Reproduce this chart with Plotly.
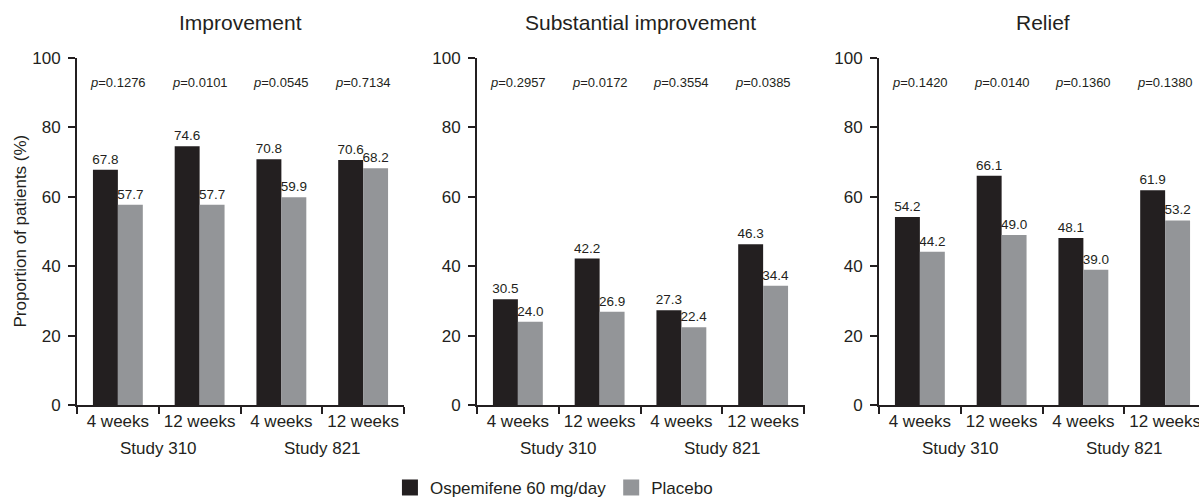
import plotly.graph_objects as go

# ---- data ----
panel_titles = ["Improvement", "Substantial improvement", "Relief"]
week_labels = ["4 weeks", "12 weeks", "4 weeks", "12 weeks"]
study_labels = ["Study 310", "Study 821"]
series_names = ["Ospemifene 60 mg/day", "Placebo"]
y_title = "Proportion of patients (%)"

ospemifene_improvement = [67.8, 74.6, 70.8, 70.6]
placebo_improvement = [57.7, 57.7, 59.9, 68.2]
ospemifene_substantial = [30.5, 42.2, 27.3, 46.3]
placebo_substantial = [24.0, 26.9, 22.4, 34.4]
ospemifene_relief = [54.2, 66.1, 48.1, 61.9]
placebo_relief = [44.2, 49.0, 39.0, 53.2]

p_improvement = ["0.1276", "0.0101", "0.0545", "0.7134"]
p_substantial = ["0.2957", "0.0172", "0.3554", "0.0385"]
p_relief = ["0.1420", "0.0140", "0.1360", "0.1380"]

y_ticks = [0, 20, 40, 60, 80, 100]

# ---- style ----
INK = "#231f20"
BLACK = "#231f20"
GRAY = "#939598"
FONT = "Liberation Sans, Arial, sans-serif"
W, H = 1199, 502

ospe = [ospemifene_improvement, ospemifene_substantial, ospemifene_relief]
plac = [placebo_improvement, placebo_substantial, placebo_relief]
pvals = [p_improvement, p_substantial, p_relief]

x_pos = list(range(len(week_labels)))

# pixel layout of the plotting areas
px_domains = [(77, 404), (477, 805), (879, 1199)]
cat_px = 81.75

fig = go.Figure()
annotations = []
for i in range(3):
    ax = "" if i == 0 else str(i + 1)
    fig.add_trace(go.Bar(
        x=x_pos, y=ospe[i], name=series_names[0], marker_color=BLACK,
        marker_line_width=0, xaxis="x" + ax, yaxis="y" + ax, showlegend=False,
        texttemplate="%{y:.1f}", textposition="outside", constraintext="none",
        cliponaxis=False, textfont=dict(size=13.5, color=INK, family=FONT),
        offsetgroup="o",
    ))
    fig.add_trace(go.Bar(
        x=x_pos, y=plac[i], name=series_names[1], marker_color=GRAY,
        marker_line_width=0, xaxis="x" + ax, yaxis="y" + ax, showlegend=False,
        texttemplate="%{y:.1f}", textposition="outside", constraintext="none",
        cliponaxis=False, textfont=dict(size=13.5, color=INK, family=FONT),
        offsetgroup="p",
    ))
    d0, d1 = px_domains[i]
    n_cats = (d1 - d0) / cat_px
    xa = dict(
        domain=[d0 / W, d1 / W], range=[-0.5, -0.5 + n_cats],
        tickvals=x_pos, ticktext=week_labels, ticks="", showgrid=False,
        zeroline=False, showline=True, linecolor=INK, linewidth=2,
        tickfont=dict(size=17, color=INK, family=FONT), anchor="y" + ax,
        ticklabeloverflow="allow", automargin=False,
        minor=dict(tickvals=[-0.5, 0.5, 1.5, 2.5, 3.5], ticks="outside",
                   ticklen=7, tickwidth=2, tickcolor=INK, showgrid=False),
        fixedrange=True,
    )
    ya = dict(
        domain=[0, 1], range=[0, 100], tickvals=y_ticks, ticks="outside",
        ticklen=7, tickwidth=2, tickcolor=INK, showline=True, linecolor=INK,
        linewidth=2, showgrid=False, zeroline=False, anchor="x" + ax,
        tickfont=dict(size=17, color=INK, family=FONT), ticklabelstandoff=4,
        automargin=False, fixedrange=True,
    )
    fig.update_layout(**{"xaxis" + ax: xa, "yaxis" + ax: ya})

    # panel title
    annotations.append(dict(
        text=panel_titles[i], xref="x" + ax, yref="paper", x=1.5, y=1.101,
        xanchor="center", yanchor="middle", showarrow=False,
        font=dict(size=21, color=INK, family=FONT)))
    # p-values
    for j, p in enumerate(pvals[i]):
        annotations.append(dict(
            text="<i>p</i>=" + p, xref="x" + ax, yref="y" + ax, x=x_pos[j], y=93,
            xanchor="center", yanchor="middle", showarrow=False,
            font=dict(size=13, color=INK, family=FONT)))
    # study group labels
    for k, s in enumerate(study_labels):
        annotations.append(dict(
            text=s, xref="x" + ax, yref="paper", x=2 * k + 0.5, y=-0.124,
            xanchor="center", yanchor="middle", showarrow=False,
            font=dict(size=17, color=INK, family=FONT)))

# y-axis title (shared, left panel)
annotations.append(dict(
    text=y_title, xref="paper", yref="paper", x=20 / W, y=0.5, textangle=-90,
    xanchor="center", yanchor="middle", showarrow=False,
    font=dict(size=17, color=INK, family=FONT)))

# legend entries
for name, col in zip(series_names, [BLACK, GRAY]):
    fig.add_trace(go.Scatter(
        x=[None], y=[None], mode="markers", name=name,
        marker=dict(symbol="square", size=16, color=col), showlegend=True,
    ))

fig.update_layout(
    width=W, height=H,
    margin=dict(l=0, r=0, t=58, b=97, autoexpand=False),
    paper_bgcolor="white", plot_bgcolor="white",
    barmode="group", bargap=0.39, bargroupgap=0,
    font=dict(family=FONT, color=INK, size=17),
    annotations=annotations,
    showlegend=True,
    legend=dict(orientation="h", x=0.462, y=-0.239, xanchor="center",
                yanchor="middle", font=dict(size=17, color=INK, family=FONT),
                itemclick=False, itemdoubleclick=False),
)

fig.write_html(
    "out.html",
    config={"displayModeBar": False},
    post_script="document.body.style.margin='0';document.body.style.overflow='hidden';",
)
